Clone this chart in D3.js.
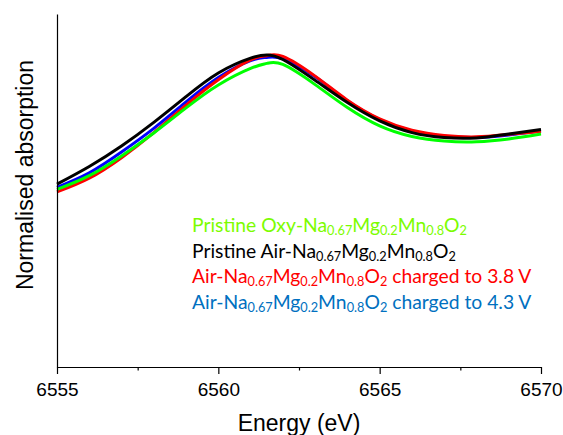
<!DOCTYPE html>
<html>
<head>
<meta charset="utf-8">
<script src="https://cdn.jsdelivr.net/npm/d3@7"></script>
<style>
  html, body { margin: 0; padding: 0; background: #fff; }
  svg { display: block; }
  .axis text { font-family: "Liberation Sans", Arial, sans-serif; font-size: 19px; fill: #000; }
  .axis path, .axis line { stroke: #000; stroke-width: 1.2px; }
</style>
</head>
<body>
<svg id="chart" width="563" height="435"></svg>
<script>
// Mn K-edge XANES, white-line region
const energy = [6555, 6556, 6557, 6558, 6559, 6560, 6561, 6561.5, 6562, 6563, 6564, 6565, 6566, 6567, 6568, 6569, 6570];

const oxyPristine   = [0.503, 0.542, 0.598, 0.663, 0.734, 0.799, 0.846, 0.860, 0.857, 0.800, 0.735, 0.683, 0.653, 0.640, 0.638, 0.646, 0.660];
const airPristine   = [0.518, 0.568, 0.626, 0.693, 0.766, 0.833, 0.875, 0.884, 0.871, 0.812, 0.749, 0.697, 0.664, 0.650, 0.649, 0.660, 0.673];
const airCharged38  = [0.496, 0.535, 0.593, 0.664, 0.742, 0.814, 0.870, 0.882, 0.880, 0.824, 0.756, 0.703, 0.671, 0.656, 0.652, 0.659, 0.667];
const airCharged43  = [0.509, 0.550, 0.609, 0.676, 0.751, 0.820, 0.868, 0.877, 0.873, 0.822, 0.754, 0.701, 0.669, 0.654, 0.650, 0.657, 0.669];

const xTicks = [6555, 6560, 6565, 6570];
const xMinorTicks = [6557.5, 6562.5, 6567.5];

// legend rows: [text, isSubscript]
const legendRows = [
  { color: "#7CFC00", parts: [["Pristine Oxy-Na", 0], ["0.67", 1], ["Mg", 0], ["0.2", 1], ["Mn", 0], ["0.8", 1], ["O", 0], ["2", 1]] },
  { color: "#000000", parts: [["Pristine Air-Na", 0], ["0.67", 1], ["Mg", 0], ["0.2", 1], ["Mn", 0], ["0.8", 1], ["O", 0], ["2", 1]] },
  { color: "#FF0000", parts: [["Air-Na", 0], ["0.67", 1], ["Mg", 0], ["0.2", 1], ["Mn", 0], ["0.8", 1], ["O", 0], ["2", 1], [" charged to 3.8 V", 0]] },
  { color: "#0070C0", parts: [["Air-Na", 0], ["0.67", 1], ["Mg", 0], ["0.2", 1], ["Mn", 0], ["0.8", 1], ["O", 0], ["2", 1], [" charged to 4.3 V", 0]] }
];

// drawing order: bottom to top
const series = [
  { values: airCharged43, color: "#0000FF" },
  { values: airCharged38, color: "#FF0000" },
  { values: oxyPristine,  color: "#00FF00" },
  { values: airPristine,  color: "#000000" }
];

const margin = { left: 57, right: 22, top: 14, bottom: 68 };
const W = 563, H = 435;
const svg = d3.select("#chart");

const x = d3.scaleLinear().domain([6555, 6570]).range([margin.left, W - margin.right]);
const y = d3.scaleLinear().domain([0, 1]).range([H - margin.bottom, margin.top]);

// spectra
const line = d3.line()
  .x((d, i) => x(energy[i]))
  .y(d => y(d))
  .curve(d3.curveNatural);

svg.append("g").selectAll("path")
  .data(series)
  .join("path")
  .attr("d", s => line(s.values))
  .attr("fill", "none")
  .attr("stroke", s => s.color)
  .attr("stroke-width", 3)
  .attr("stroke-linejoin", "round");

// axes
const xAxis = svg.append("g")
  .attr("class", "axis")
  .attr("transform", `translate(0,${y(0)})`)
  .call(d3.axisBottom(x).tickValues(xTicks).tickSize(7).tickSizeOuter(0).tickFormat(d3.format("d")));
xAxis.selectAll("text").attr("y", 16);

svg.append("g")
  .attr("class", "axis")
  .attr("transform", `translate(0,${y(0)})`)
  .call(d3.axisBottom(x).tickValues(xMinorTicks).tickSize(3.5).tickFormat(""))
  .select(".domain").remove();

svg.append("g")
  .attr("class", "axis")
  .attr("transform", `translate(${x(6555)},0)`)
  .call(d3.axisLeft(y).tickValues([]).tickSizeOuter(0));

// axis titles
svg.append("text")
  .attr("x", (x(6555) + x(6570)) / 2)
  .attr("y", 431)
  .attr("text-anchor", "middle")
  .style("font-family", "'Liberation Sans', Arial, sans-serif")
  .style("font-size", "23px")
  .text("Energy (eV)");

svg.append("text")
  .attr("transform", "translate(33,175) rotate(-90)")
  .attr("text-anchor", "middle")
  .style("font-family", "'Liberation Sans', Arial, sans-serif")
  .style("font-size", "23px")
  .text("Normalised absorption");

// legend
const legendX = 192;
const legendY0 = 232;
const legendDy = 25.7;
const legend = svg.append("g")
  .style("font-family", "Lato, 'Open Sans', sans-serif");

function drawLegend(fs) {
  legend.selectAll("*").remove();
  legendRows.forEach((row, i) => {
    const t = legend.append("text")
      .attr("x", legendX)
      .attr("y", legendY0 + i * legendDy)
      .attr("fill", row.color)
      .style("font-size", fs + "px");
    row.parts.forEach(([s, sub], k) => {
      const prevSub = k > 0 && row.parts[k - 1][1];
      let dy = 0;
      if (sub && !prevSub) dy = fs * 0.15;
      if (!sub && prevSub) dy = -fs * 0.15;
      const ts = t.append("tspan").text(s).attr("dy", dy);
      if (sub) ts.style("font-size", (fs * 0.66) + "px");
    });
  });
}

// size the legend font so the longest row spans its width
let fs = 18;
drawLegend(fs);
const target = 339.7;
const w = legend.selectAll("text").nodes()[2].getComputedTextLength();
fs = fs * target / w;
drawLegend(fs);
</script>
</body>
</html>
